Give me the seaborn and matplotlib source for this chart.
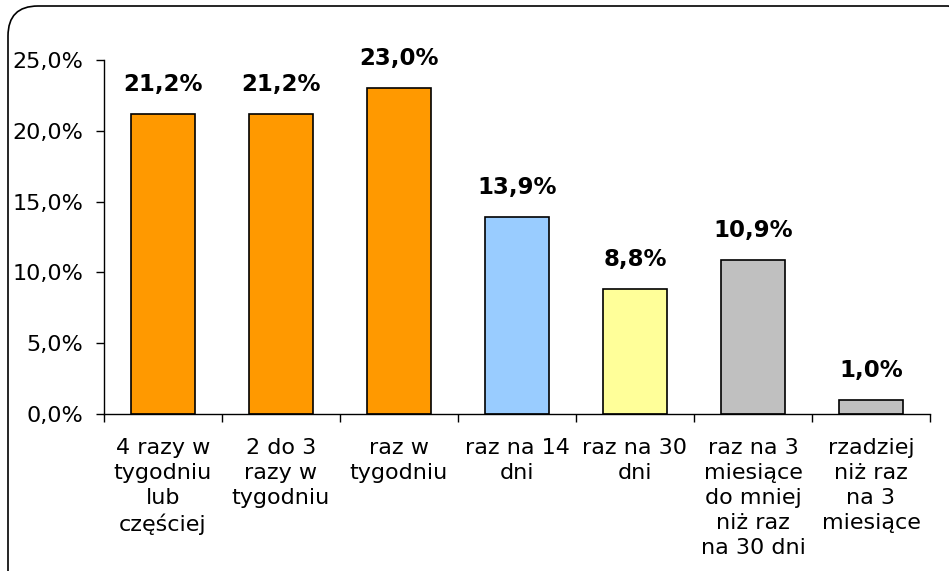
import numpy as np
import pandas as pd
import matplotlib
matplotlib.use("Agg")
import matplotlib.pyplot as plt
import seaborn as sns
from matplotlib.patches import FancyBboxPatch

# ── Data ─────────────────────────────────────────────────────
categories = [
    "4 razy w\ntygodniu\nlub\nczęściej",
    "2 do 3\nrazy w\ntygodniu",
    "raz w\ntygodniu",
    "raz na 14\ndni",
    "raz na 30\ndni",
    "raz na 3\nmiesiące\ndo mniej\nniż raz\nna 30 dni",
    "rzadziej\nniż raz\nna 3\nmiesiące",
]
values = [21.2, 21.2, 23.0, 13.9, 8.8, 10.9, 1.0]
bar_colors = ["#FF9900", "#FF9900", "#FF9900", "#99CCFF", "#FFFF99", "#C0C0C0", "#C0C0C0"]
y_ticks = [0, 5, 10, 15, 20, 25]

df = pd.DataFrame({"cat": categories, "val": values})

sns.set_style("white")
plt.rcParams["font.family"] = ["DejaVu Sans"]
plt.rcParams["text.color"] = "black"
plt.rcParams["xtick.color"] = "black"
plt.rcParams["ytick.color"] = "black"

W, H = 949, 571
fig = plt.figure(figsize=(W / 100, H / 100), dpi=100)
fig.patch.set_facecolor("white")

# rounded chart frame (runs off the right/bottom edge like the original)
frame = FancyBboxPatch((0.08, -0.3), 9.7, 5.95,
                       boxstyle="round,pad=0,rounding_size=0.3",
                       transform=fig.dpi_scale_trans,
                       facecolor="none", edgecolor="black", lw=1.2, zorder=0)
fig.patches.append(frame)

ax = fig.add_axes([104 / W, 1 - 414 / H, (930 - 104) / W, (414 - 60) / H])
ax.set_facecolor("none")

sns.barplot(data=df, x="cat", y="val", hue="cat", palette=bar_colors,
            legend=False, width=0.55, edgecolor="black", linewidth=1.2,
            saturation=1, ax=ax)

for cont in ax.containers:
    ax.bar_label(cont, labels=[f"{v.get_height():.1f}%".replace(".", ",") for v in cont],
                 padding=13, fontsize=16.5, fontweight="bold", color="black")

ax.set_xlim(-0.5, len(categories) - 0.5)
ax.set_ylim(0, 25)
ax.set_yticks(y_ticks)
ax.set_yticklabels([f"{t:.1f}%".replace(".", ",") for t in y_ticks], fontsize=16)

# boundaries get the tick marks, centres get the labels
ax.set_xticks(np.arange(len(categories) + 1) - 0.5)
ax.set_xticklabels([])
ax.set_xticks(np.arange(len(categories)), minor=True)
ax.set_xticklabels(categories, minor=True, fontsize=16, linespacing=1.32, va="top")
ax.tick_params(axis="x", which="major", direction="out", length=6, width=1, color="black", bottom=True)
ax.tick_params(axis="x", which="minor", length=0, pad=17)
ax.tick_params(axis="y", direction="out", length=6, width=1, color="black", left=True, pad=9)

ax.set_xlabel("")
ax.set_ylabel("")
for side in ["top", "right"]:
    ax.spines[side].set_visible(False)
for side in ["left", "bottom"]:
    ax.spines[side].set_color("black")
    ax.spines[side].set_linewidth(1)

plt.savefig("out.png", dpi=100, facecolor="white")
plt.close()
